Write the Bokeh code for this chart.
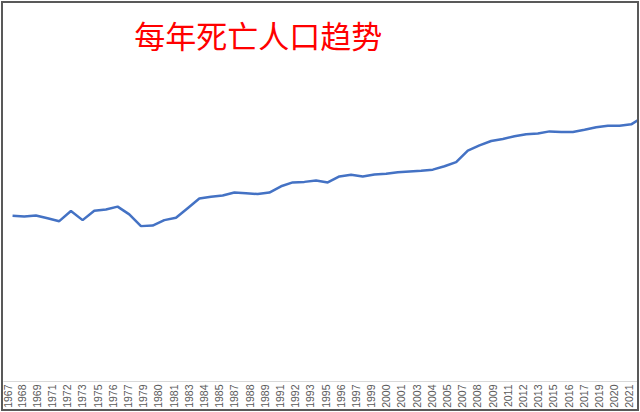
import math
from bokeh.plotting import figure
from bokeh.models import Range1d, LinearAxis, FixedTicker, Label, ColumnDataSource
from bokeh.embed import file_html
from bokeh.resources import INLINE

years = list(range(1967, 2022))
deaths = [637, 634, 638, 627, 616, 655, 620, 656, 661, 672,
          642, 597, 599, 620, 629, 666, 703, 710, 715, 726,
          723, 720, 726, 750, 765, 767, 772, 765, 788, 794,
          788, 795, 798, 804, 807, 810, 814, 827, 843, 887,
          907, 924, 932, 942, 950, 953, 961, 959, 959, 967,
          977, 983, 983, 988, 1016]
tick_labels = ["1967", "1968", "1969", "1971", "1972", "1973", "1975", "1976",
               "1977", "1979", "1980", "1981", "1983", "1984", "1985", "1987",
               "1988", "1989", "1991", "1992", "1993", "1995", "1996", "1997",
               "1999", "2000", "2001", "2003", "2004", "2005", "2007", "2008",
               "2009", "2011", "2012", "2013", "2015", "2016", "2017", "2019",
               "2020", "2021"]
title_text = "每年死亡人口趋势"

source = ColumnDataSource(data=dict(year=years, deaths=deaths))

p = figure(width=634, height=406,
           x_range=Range1d(1966.224, 2020.879), y_range=Range1d(0, 1452.4),
           x_axis_type=None, y_axis_type=None,
           output_backend="svg", toolbar_location=None,
           min_border_left=0, min_border_right=0, min_border_top=0,
           min_border_bottom=32,
           styles={"border": "2px solid #595959", "margin": "1px",
                   "box-sizing": "content-box"})
p.outline_line_color = None
p.background_fill_color = "white"
p.border_fill_color = "white"

# evenly spaced label slots for the category labels shown on the axis
slots = list(range(len(tick_labels)))
p.extra_x_ranges = {"labels": Range1d(-0.2, 41.8)}
ax = LinearAxis(x_range_name="labels", ticker=FixedTicker(ticks=slots, minor_ticks=[]))
ax.major_label_overrides = {i: lab for i, lab in zip(slots, tick_labels)}
ax.major_label_orientation = math.pi / 2
ax.major_label_text_font = "Liberation Sans"
ax.major_label_text_font_size = "10.5px"
ax.major_label_text_color = "#595959"
ax.axis_line_color = "#D9D9D9"
ax.major_tick_line_color = None
ax.major_tick_out = 0
ax.major_tick_in = 0
ax.minor_tick_line_color = None
ax.major_label_standoff = 3
p.add_layout(ax, "below")

p.line(x="year", y="deaths", source=source, line_color="#4472C4", line_width=2.5)

title = Label(x=1977.43, y=1332, text=title_text, text_font="Noto Sans CJK SC",
              text_font_size="31px", text_color="#FF0000", text_baseline="middle",
              text_align="left")
p.add_layout(title)

open("out.html", "w").write(file_html(p, INLINE))
